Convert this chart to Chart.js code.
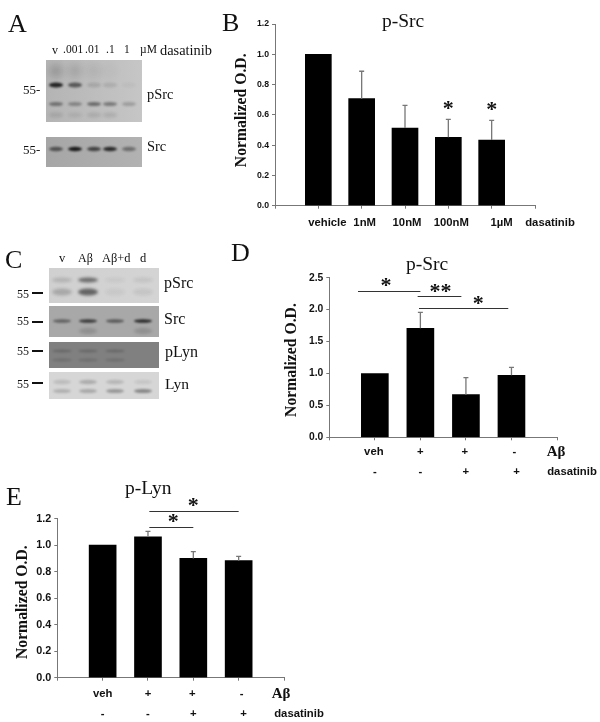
<!DOCTYPE html>
<html>
<head>
<meta charset="utf-8">
<script src="https://cdn.jsdelivr.net/npm/chart.js@4/dist/chart.umd.js"></script>
<style>
  html, body { margin: 0; background: #fff; }
  #page { position: relative; width: 600px; height: 722px; overflow: hidden; filter: blur(0.35px); }
  #page canvas { position: absolute; }
  .txt { position: absolute; font-family: "Liberation Serif", serif; color: #111; white-space: nowrap; transform: translateY(-50%); line-height: 1; }
  .dash { position: absolute; background: #111; height: 2px; width: 11px; }
</style>
</head>
<body>
<div id="page"></div>
<script>
/* Panel B */
const bLabels = ['', 'vehicle', '1nM', '10nM', '100nM', '1\u00B5M', 'dasatinib'];
const bValues = [null, 1.0, 0.707, 0.513, 0.452, 0.434, null];
const bErrorTops = [null, null, 0.888, 0.663, 0.57, 0.564, null];

/* Panel D */
const dLabels = ['', 'veh', '+', '+', '-', 'A\u03B2'];
const dDasatinib = ['', '-', '-', '+', '+', 'dasatinib'];
const dValues = [null, 1.0, 1.707, 0.668, 0.971, null];
const dErrorTops = [null, null, 1.957, 0.934, 1.096, null];

/* Panel E */
const eLabels = ['', 'veh', '+', '+', '-', 'A\u03B2'];
const eDasatinib = ['', '-', '-', '+', '+', 'dasatinib'];
const eValues = [null, 1.0, 1.064, 0.90, 0.883, null];
const eErrorTops = [null, null, 1.104, 0.951, 0.916, null];

/* Band darkness per lane, read from the blots by eye */
const aSrcMain = [0.85, 0.55, 0.12, 0.1, 0.03];
const aSrcLower = [0.4, 0.3, 0.45, 0.38, 0.2];
const aSrcFaint = [0.15, 0.1, 0.06, 0.02, 0];
const aSrcBottom = [0.1, 0.08, 0.1, 0.1, 0];
const aTotal = [0.55, 0.9, 0.65, 0.8, 0.4];
const cSrcTop = [0.14, 0.5, 0.05, 0.08];
const cSrcLow = [0.2, 0.55, 0.05, 0.07];
const cTotal = [0.45, 0.7, 0.5, 0.8];
const cTotalLow = [0, 0.15, 0, 0.15];
const cLynTop = [0.2, 0.2, 0.2, 0];
const cLynLow = [0.15, 0.15, 0.15, 0];
const cTotalLynTop = [0.12, 0.2, 0.15, 0.08];
const cTotalLynLow = [0.18, 0.22, 0.3, 0.38];

const page = document.getElementById('page');

function addText(text, x, y, size, extra) {
  const el = document.createElement('span');
  el.className = 'txt';
  el.textContent = text;
  el.style.left = x + 'px';
  el.style.top = y + 'px';
  el.style.fontSize = size + 'px';
  if (extra) Object.assign(el.style, extra);
  page.appendChild(el);
}

function addDash(x, y) {
  const el = document.createElement('div');
  el.className = 'dash';
  el.style.left = x + 'px';
  el.style.top = y + 'px';
  page.appendChild(el);
}

/* Soft gray rectangle with blurred bands, one row of bands per darkness array */
function drawBlot(box, bgLeft, bgRight, laneX, laneW, rows) {
  const canvas = document.createElement('canvas');
  canvas.width = box.w;
  canvas.height = box.h;
  canvas.style.left = box.x + 'px';
  canvas.style.top = box.y + 'px';
  page.appendChild(canvas);
  const ctx = canvas.getContext('2d');
  const grad = ctx.createLinearGradient(0, 0, box.w, 0);
  grad.addColorStop(0, bgLeft);
  grad.addColorStop(1, bgRight);
  ctx.fillStyle = grad;
  ctx.fillRect(0, 0, box.w, box.h);
  rows.forEach(function (row) {
    ctx.filter = 'blur(' + row.blur + 'px)';
    row.dark.forEach(function (d, i) {
      if (!d) return;
      ctx.fillStyle = 'rgba(10,10,10,' + d + ')';
      ctx.beginPath();
      ctx.ellipse(laneX[i] - box.x, row.y - box.y, laneW, row.h, 0, 0, Math.PI * 2);
      ctx.fill();
    });
  });
  ctx.filter = 'none';
}

/* Draws y title, error whiskers, x-axis text rows, bracket lines and stars from the chart scales */
const annotate = {
  id: 'annotate',
  afterDatasetsDraw(chart, args, opts) {
    const { ctx, scales: { x, y } } = chart;
    ctx.save();
    ctx.strokeStyle = '#777';
    ctx.lineWidth = 1.3;
    opts.errorTops.forEach(function (top, i) {
      if (top === null) return;
      const px = x.getPixelForValue(i);
      const barTop = y.getPixelForValue(opts.values[i]);
      const errTop = y.getPixelForValue(top);
      ctx.beginPath();
      ctx.moveTo(px, barTop);
      ctx.lineTo(px, errTop);
      ctx.moveTo(px - 2.5, errTop);
      ctx.lineTo(px + 2.5, errTop);
      ctx.stroke();
    });

    ctx.strokeStyle = '#333';
    ctx.lineWidth = 1;
    opts.brackets.forEach(function (b) {
      const py = Math.round(y.getPixelForValue(b[2])) + 0.5;
      ctx.beginPath();
      ctx.moveTo(x.getPixelForValue(b[0]), py);
      ctx.lineTo(x.getPixelForValue(b[1]), py);
      ctx.stroke();
    });

    ctx.fillStyle = '#111';
    ctx.font = 'bold 22px "Liberation Serif"';
    ctx.textAlign = 'center';
    ctx.textBaseline = 'alphabetic';
    opts.stars.forEach(function (s) {
      const m = ctx.measureText(s[2]);
      const mid = (m.actualBoundingBoxAscent - m.actualBoundingBoxDescent) / 2;
      ctx.fillText(s[2], x.getPixelForValue(s[0]), y.getPixelForValue(s[1]) + mid);
    });

    ctx.textBaseline = 'middle';
    opts.rows.forEach(function (row) {
      row.labels.forEach(function (label, i) {
        ctx.font = label === 'A\u03B2' ? 'bold 15px "Liberation Serif"' : 'bold 11.3px "Liberation Sans"';
        ctx.fillText(label, x.getPixelForValue(i) + row.shift[i], y.bottom + row.dy);
      });
    });

    /* y title sits a little off the axis centre in the original */
    ctx.translate(opts.titleX, y.getPixelForValue(opts.titleMid));
    ctx.rotate(-Math.PI / 2);
    ctx.font = 'bold 15.7px "Liberation Serif"';
    ctx.fillText('Normalized O.D.', 0, 0);
    ctx.restore();
  }
};

/* Set up one bar panel; the canvas box and axis sizes place the plot area */
function createPanel(cfg) {
  const canvas = document.createElement('canvas');
  canvas.width = cfg.box.w;
  canvas.height = cfg.box.h;
  canvas.style.left = cfg.box.x + 'px';
  canvas.style.top = cfg.box.y + 'px';
  page.appendChild(canvas);

  return new Chart(canvas.getContext('2d'), {
    type: 'bar',
    data: {
      labels: cfg.labels,
      datasets: [{ data: cfg.values, backgroundColor: '#000', barThickness: cfg.barWidth }]
    },
    plugins: [annotate],
    options: {
      responsive: false,
      animation: false,
      layout: { padding: { top: cfg.padTop, right: cfg.padRight, left: 0, bottom: 0 } },
      plugins: {
        legend: { display: false },
        tooltip: { enabled: false },
        annotate: {
          values: cfg.values,
          errorTops: cfg.errorTops,
          brackets: cfg.brackets,
          stars: cfg.stars,
          rows: cfg.rows,
          titleX: cfg.titleX,
          titleMid: cfg.titleMid
        }
      },
      scales: {
        x: {
          offset: false,
          grid: { offset: false, drawOnChartArea: false, color: '#777', tickLength: 3 },
          border: { color: '#777' },
          ticks: { display: false, autoSkip: false },
          afterFit(scale) { scale.height = cfg.xHeight; }
        },
        y: {
          min: 0,
          max: cfg.yMax,
          grid: { drawOnChartArea: false, color: '#777', tickLength: 3 },
          border: { color: '#777' },
          ticks: {
            stepSize: cfg.yStep,
            padding: cfg.tickPad,
            color: '#111',
            font: { family: 'Liberation Sans', weight: 'bold', size: cfg.tickSize },
            callback: function (v) { return v.toFixed(1); }
          },
          afterFit(scale) { scale.width = cfg.yWidth; }
        }
      }
    }
  });
}

createPanel({
  box: { x: 232, y: 0, w: 368, h: 236 },
  padTop: 24, padRight: 65, xHeight: 30.3, yWidth: 43, yMax: 1.2, yStep: 0.2,
  tickSize: 8.7, tickPad: 3, barWidth: 26, titleX: 10, titleMid: 0.63,
  labels: bLabels, values: bValues, errorTops: bErrorTops,
  brackets: [],
  stars: [[4, 0.665, '*'], [5, 0.652, '*']],
  rows: [{ labels: bLabels, shift: [0, 9, 3, 2, 3, 10, 15], dy: 17 }]
});

createPanel({
  box: { x: 283, y: 245, w: 317, h: 240 },
  padTop: 32.7, padRight: 43, xHeight: 47.7, yWidth: 46.3, yMax: 2.5, yStep: 0.5,
  tickSize: 10.3, tickPad: 3, barWidth: 27, titleX: 9, titleMid: 1.21,
  labels: dLabels, values: dValues, errorTops: dErrorTops,
  brackets: [[0.63, 2, 2.29], [1.94, 2.9, 2.21], [1.97, 3.93, 2.02]],
  stars: [[1.247, 2.417, '*'], [2.44, 2.33, '**'], [3.27, 2.15, '*']],
  rows: [
    { labels: dLabels, shift: [0, -1, 0, -1, 3, -1], dy: 15 },
    { labels: dDasatinib, shift: [0, 0, 0, 0, 5, 15], dy: 35 }
  ]
});

createPanel({
  box: { x: 14, y: 470, w: 330, h: 252 },
  padTop: 48.7, padRight: 60, xHeight: 44.3, yWidth: 43.3, yMax: 1.2, yStep: 0.2,
  tickSize: 10.8, tickPad: 3, barWidth: 27, titleX: 9, titleMid: 0.57,
  labels: eLabels, values: eValues, errorTops: eErrorTops,
  brackets: [[2.03, 3, 1.135], [2.03, 4, 1.258]],
  stars: [[2.555, 1.203, '*'], [2.996, 1.32, '*']],
  rows: [
    { labels: eLabels, shift: [0, 0, 0, -1, 3, -3], dy: 16 },
    { labels: eDasatinib, shift: [0, 0, 0, 0, 5, 15], dy: 36 }
  ]
});

/* Blots in panel A */
const aLanes = [56, 75, 94, 110, 129];
drawBlot({ x: 46, y: 60, w: 96, h: 62 }, '#b4b4b4', '#c6c6c6', aLanes, 7, [
  { dark: aSrcFaint, y: 71, h: 7, blur: 3 },
  { dark: aSrcMain, y: 85, h: 2.5, blur: 1.2 },
  { dark: aSrcLower, y: 104, h: 2, blur: 1.2 },
  { dark: aSrcBottom, y: 115, h: 2.5, blur: 1.5 }
]);
drawBlot({ x: 46, y: 137, w: 96, h: 30 }, '#a6a6a6', '#b2b2b2', aLanes, 7, [
  { dark: aTotal, y: 149, h: 2.2, blur: 1 }
]);

/* Blots in panel C */
const cLanes = [62, 88, 115, 143];
drawBlot({ x: 49, y: 268, w: 110, h: 35 }, '#d0d0d0', '#d4d4d4', cLanes, 10, [
  { dark: cSrcTop, y: 280, h: 2.5, blur: 1.5 },
  { dark: cSrcLow, y: 292, h: 3.5, blur: 1.8 }
]);
drawBlot({ x: 49, y: 306, w: 110, h: 31 }, '#a8a8a8', '#a8a8a8', cLanes, 9, [
  { dark: cTotal, y: 321, h: 1.8, blur: 0.9 },
  { dark: cTotalLow, y: 331, h: 3, blur: 1.5 }
]);
drawBlot({ x: 49, y: 342, w: 110, h: 26 }, '#808080', '#808080', cLanes, 10, [
  { dark: cLynTop, y: 351, h: 1.5, blur: 1 },
  { dark: cLynLow, y: 360, h: 1.5, blur: 1 }
]);
drawBlot({ x: 49, y: 372, w: 110, h: 27 }, '#d6d6d6', '#d6d6d6', cLanes, 9, [
  { dark: cTotalLynTop, y: 382, h: 2.2, blur: 1.2 },
  { dark: cTotalLynLow, y: 391, h: 2, blur: 1.1 }
]);

/* Panel letters and titles */
addText('A', 8, 24, 26);
addText('B', 222, 23, 26);
addText('C', 5, 260, 26);
addText('D', 231, 253, 26);
addText('E', 6, 497, 26);
addText('p-Src', 382, 21, 19.5);
addText('p-Src', 406, 264, 19.5);
addText('p-Lyn', 125, 488, 19.5);

/* Lane and blot labels, panel A */
addText('v', 52, 50, 12);
addText('.001', 63, 50, 11.5);
addText('.01', 85, 50, 11.5);
addText('.1', 106, 50, 11.5);
addText('1', 124, 50, 11.5);
addText('\u00B5M', 140, 50, 11.5);
addText('dasatinib', 160, 50, 14.4);
addText('55-', 23, 89, 13);
addText('55-', 23, 149, 13);
addText('pSrc', 147, 94, 14.4);
addText('Src', 147, 146, 14.4);

/* Lane and blot labels, panel C */
addText('v', 59, 258, 12.5);
addText('A\u03B2', 78, 258, 12);
addText('A\u03B2+d', 102, 258, 12.4);
addText('d', 140, 258, 12.5);
addText('55', 17, 294, 12);
addText('55', 17, 321, 12);
addText('55', 17, 351, 12);
addText('55', 17, 384, 12);
addDash(32, 292);
addDash(32, 321);
addDash(32, 350);
addDash(32, 382);
addText('pSrc', 164, 283, 16);
addText('Src', 164, 319, 16);
addText('pLyn', 165, 352, 16);
addText('Lyn', 165, 384, 15.5);
</script>
</body>
</html>
